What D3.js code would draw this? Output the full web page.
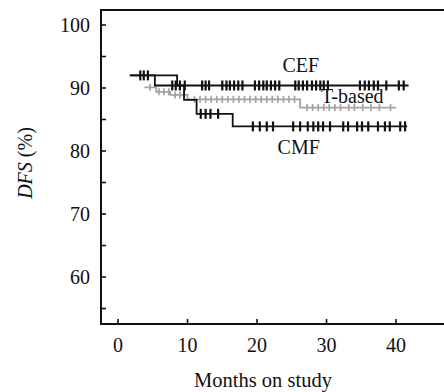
<!DOCTYPE html>
<html>
<head>
<meta charset="utf-8">
<script src="https://cdn.jsdelivr.net/npm/d3@7"></script>
<style>
  body { margin: 0; background: #fff; }
  text { font-family: "Liberation Serif", "Times New Roman", serif; fill: #111; }
</style>
</head>
<body>
<svg id="chart" width="444" height="392"></svg>
<script>
const xTicks = [0, 10, 20, 30, 40];
const yTicks = [60, 70, 80, 90, 100];
const yMinorTicks = [55, 65, 75, 85, 95];

// step curves: [month, DFS %]
const cefSteps = [[1.7, 92.0], [5.3, 90.4], [41.8, 90.4]];
const cmfSteps = [[1.7, 92.0], [8.5, 90.4], [9.5, 88.1], [11.3, 85.9], [16.5, 83.9], [41.6, 83.9]];
const tSteps = [[3.8, 90.1], [5.5, 89.4], [7.5, 88.9], [10.0, 88.2], [26.2, 86.9], [40.0, 86.9]];

const cefCensor = [3.2, 3.7, 4.3, 7.8, 8.3, 8.9, 9.6, 12.1, 12.6, 13.1, 15.0, 15.6, 16.1, 16.7, 17.3, 17.9,
  19.7, 20.3, 20.9, 21.4, 22.0, 22.6, 23.2, 25.5, 26.0, 26.6, 27.2, 27.9, 28.5, 29.1, 29.6, 30.2,
  34.8, 35.5, 36.1, 36.8, 37.4, 38.6, 40.4, 41.1];
const cmfCensor = [11.9, 12.6, 13.3, 14.4, 19.4, 20.4, 21.4, 22.3, 25.2, 26.2, 27.3, 28.1, 28.8, 29.5,
  30.5, 32.4, 33.1, 34.4, 35.1, 36.0, 37.4, 38.4, 39.1, 40.6, 41.3];
const tCensor = [4.6, 5.9, 6.6, 7.3, 8.2, 8.9, 11.0, 11.8, 12.6, 13.4, 14.2, 15.0, 15.8, 16.6, 17.4,
  18.2, 19.0, 19.8, 20.6, 21.4, 22.2, 23.0, 23.8, 24.6, 25.4, 27.2, 28.0, 28.8, 29.6, 30.4, 31.2,
  32.0, 33.2, 34.0, 35.2, 36.4, 37.6, 39.2];

const series = [
  { name: "T-based", steps: tSteps, censor: tCensor, color: "#a3a3a3", width: 1.8, mark: 3.5, markWidth: 1.7 },
  { name: "CMF", steps: cmfSteps, censor: cmfCensor, color: "#111", width: 1.8, mark: 5, markWidth: 2.2 },
  { name: "CEF", steps: cefSteps, censor: cefCensor, color: "#111", width: 1.8, mark: 5, markWidth: 2.2 },
];

const labels = [
  { text: "CEF", t: 26.3, v: 92.5, anchor: "middle" },
  { text: "T-based", t: 29.2, v: 87.6, anchor: "start" },
  { text: "CMF", t: 26.0, v: 79.5, anchor: "middle" },
];

const svg = d3.select("#chart");
const x = d3.scaleLinear().domain([-2.45, 46.9]).range([101, 444]);
const y = d3.scaleLinear().domain([52.54, 102.38]).range([324, 10]);

// frame: left, top and bottom lines
svg.append("path")
  .attr("d", `M${x.range()[1] + 2},${y.range()[1]}H${x.range()[0]}V${y.range()[0]}H${x.range()[1] + 2}`)
  .attr("fill", "none")
  .attr("stroke", "#111")
  .attr("stroke-width", 2);

// y ticks (inward)
const yAxis = svg.append("g").attr("transform", `translate(${x.range()[0]},0)`);
yAxis.selectAll(".ytick")
  .data(yTicks.concat(yMinorTicks))
  .join("line")
  .attr("x1", 0).attr("x2", 5)
  .attr("y1", (d) => y(d)).attr("y2", (d) => y(d))
  .attr("stroke", "#111").attr("stroke-width", 1.6);
yAxis.selectAll(".ylabel")
  .data(yTicks)
  .join("text")
  .attr("x", -11)
  .attr("y", (d) => y(d) + 7)
  .attr("text-anchor", "end")
  .attr("font-size", 20)
  .text((d) => d);

// x ticks (inward)
const xAxis = svg.append("g").attr("transform", `translate(0,${y.range()[0]})`);
xAxis.selectAll(".xtick")
  .data(xTicks)
  .join("line")
  .attr("x1", (d) => x(d)).attr("x2", (d) => x(d))
  .attr("y1", 0).attr("y2", -5)
  .attr("stroke", "#111").attr("stroke-width", 1.6);
xAxis.selectAll(".xlabel")
  .data(xTicks)
  .join("text")
  .attr("x", (d) => x(d))
  .attr("y", 28)
  .attr("text-anchor", "middle")
  .attr("font-size", 20)
  .text((d) => d);

svg.append("text")
  .attr("x", 263)
  .attr("y", 387)
  .attr("text-anchor", "middle")
  .attr("font-size", 20.5)
  .text("Months on study");

const yTitle = svg.append("text")
  .attr("transform", "translate(32,163) rotate(-90)")
  .attr("text-anchor", "middle")
  .attr("font-size", 20);
yTitle.append("tspan").attr("font-style", "italic").text("DFS");
yTitle.append("tspan").text(" (%)");

// curves
const stepLine = d3.line()
  .x((d) => x(d[0]))
  .y((d) => y(d[1]))
  .curve(d3.curveStepAfter);

function levelAt(steps, t) {
  let v = steps[0][1];
  for (const s of steps) if (s[0] <= t) v = s[1];
  return v;
}

series.forEach((s) => {
  const g = svg.append("g").attr("class", "curve");
  g.append("path")
    .attr("d", stepLine(s.steps))
    .attr("fill", "none")
    .attr("stroke", s.color)
    .attr("stroke-width", s.width);
  g.selectAll("line")
    .data(s.censor)
    .join("line")
    .attr("x1", (d) => x(d)).attr("x2", (d) => x(d))
    .attr("y1", (d) => y(levelAt(s.steps, d)) - s.mark)
    .attr("y2", (d) => y(levelAt(s.steps, d)) + s.mark)
    .attr("stroke", s.color)
    .attr("stroke-width", s.markWidth);
});

svg.selectAll(".curve-label")
  .data(labels)
  .join("text")
  .attr("x", (d) => x(d.t))
  .attr("y", (d) => y(d.v))
  .attr("text-anchor", (d) => d.anchor)
  .attr("font-size", 20)
  .text((d) => d.text);
</script>
</body>
</html>
